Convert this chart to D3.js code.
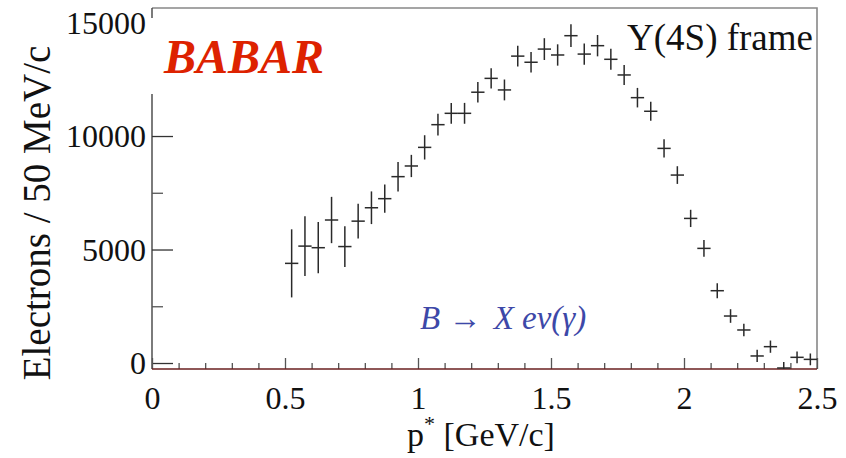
<!DOCTYPE html>
<html>
<head>
<meta charset="utf-8">
<script src="https://cdn.jsdelivr.net/npm/d3@7"></script>
<style>
  body { margin: 0; background: #fff; }
  svg { display: block; }
  text { font-family: "Liberation Serif", "Times New Roman", serif; }
</style>
</head>
<body>
<div id="content"></div>
<script>
// bin centres (50 MeV bins), electron yield and stat. error
var pStar = [0.525, 0.575, 0.625, 0.675, 0.725, 0.775, 0.825, 0.875, 0.925, 0.975,
	1.025, 1.075, 1.125, 1.175, 1.225, 1.275, 1.325, 1.375, 1.425, 1.475,
	1.525, 1.575, 1.625, 1.675, 1.725, 1.775, 1.825, 1.875, 1.925, 1.975,
	2.025, 2.075, 2.125, 2.175, 2.225, 2.275, 2.325, 2.375, 2.425, 2.475];

var counts = [4390, 5150, 5080, 6300, 5130, 6250, 6840, 7240, 8210, 8680,
	9500, 10500, 11000, 11000, 11930, 12540, 12030, 13520, 13250, 13830,
	13570, 14420, 13610, 13980, 13380, 12690, 11690, 11090, 9455, 8280,
	6370, 5050, 3185, 2070, 1455, 310, 720, -220, 250, 160];

var errors = [1500, 1320, 1130, 1020, 900, 770, 720, 620, 650, 490,
	535, 480, 460, 460, 450, 450, 460, 460, 450, 480,
	470, 500, 470, 470, 460, 440, 430, 420, 400, 390,
	380, 370, 330, 300, 280, 270, 270, 260, 260, 260];

var binHalf = 0.025;

var xMajor = [0, 0.5, 1, 1.5, 2, 2.5];
var xMinor = [0.1, 0.2, 0.3, 0.4, 0.6, 0.7, 0.8, 0.9, 1.1, 1.2, 1.3, 1.4,
	1.6, 1.7, 1.8, 1.9, 2.1, 2.2, 2.3, 2.4];
var yMajor = [0, 5000, 10000, 15000];
var yMinor = [2500, 7500, 12500];

var W = 846, H = 458;
var padL = 152, padR = 817, padT = 8, padB = 369;

var svg = d3.select("#content").append("svg")
	.attr("width", W).attr("height", H);

var x = d3.scaleLinear().domain([0, 2.5]).range([padL, padR]);
var y = d3.scaleLinear().domain([-264, 15640]).range([padB, padT]);

// frame: top and right in grey
svg.append("path")
	.attr("d", "M" + padL + "," + padT + "H" + padR + "V" + padB)
	.attr("fill", "none").attr("stroke", "#888").attr("stroke-width", 1.6);

// left axis
svg.append("line")
	.attr("x1", padL).attr("x2", padL).attr("y1", padT).attr("y2", padB)
	.attr("stroke", "#444").attr("stroke-width", 1.4);

var yAxis = d3.axisLeft(y).tickValues(yMajor).tickSize(-21).tickPadding(6)
	.tickFormat(d3.format("d"));
var gy = svg.append("g").attr("transform", "translate(" + padL + ",0)").call(yAxis);
gy.select(".domain").remove();
gy.selectAll("line").attr("stroke", "#333").attr("stroke-width", 1.3);
gy.selectAll("text").attr("font-size", 32).attr("fill", "#111")
	.attr("font-family", "Liberation Serif").attr("dy", "0.34em");

var gy2 = svg.append("g").attr("transform", "translate(" + padL + ",0)")
	.call(d3.axisLeft(y).tickValues(yMinor).tickSize(-11).tickFormat(""));
gy2.select(".domain").remove();
gy2.selectAll("line").attr("stroke", "#555").attr("stroke-width", 1.3);

// bottom axis
var xAxis = d3.axisBottom(x).tickValues(xMajor).tickSize(-11).tickPadding(17)
	.tickFormat(function (d) { return d; });
var gx = svg.append("g").attr("transform", "translate(0," + padB + ")").call(xAxis);
gx.select(".domain").remove();
gx.selectAll("line").attr("stroke", "#555").attr("stroke-width", 1.3);
gx.selectAll("text").attr("font-size", 32).attr("fill", "#111")
	.attr("font-family", "Liberation Serif");

var gx2 = svg.append("g").attr("transform", "translate(0," + padB + ")")
	.call(d3.axisBottom(x).tickValues(xMinor).tickSize(-6).tickFormat(""));
gx2.select(".domain").remove();
gx2.selectAll("line").attr("stroke", "#444").attr("stroke-width", 1.2);

svg.append("line")
	.attr("x1", padL).attr("x2", padR).attr("y1", padB).attr("y2", padB)
	.attr("stroke", "#6a1f1f").attr("stroke-width", 1.6);

// white patch where the logo was pasted over the axis
svg.append("rect").attr("x", padL - 3).attr("y", 18).attr("width", 180).attr("height", 76)
	.attr("fill", "#fff");

// data points with error bars
svg.append("clipPath").attr("id", "plotClip")
	.append("rect").attr("x", padL).attr("y", padT)
	.attr("width", padR - padL).attr("height", padB - padT);

var pts = svg.append("g").attr("clip-path", "url(#plotClip)")
	.selectAll("g").data(pStar).enter().append("g");

pts.append("line")
	.attr("x1", function (d) { return x(d - binHalf); })
	.attr("x2", function (d) { return x(d + binHalf); })
	.attr("y1", function (d, i) { return y(counts[i]); })
	.attr("y2", function (d, i) { return y(counts[i]); });

pts.append("line")
	.attr("x1", function (d) { return x(d); })
	.attr("x2", function (d) { return x(d); })
	.attr("y1", function (d, i) { return y(counts[i] - errors[i]); })
	.attr("y2", function (d, i) { return y(counts[i] + errors[i]); });

pts.selectAll("line").attr("stroke", "#2a2a2a").attr("stroke-width", 1.5);

// labels
svg.append("text").text("BABAR")
	.attr("x", 164).attr("y", 73)
	.attr("font-size", 48).attr("font-weight", "bold").attr("font-style", "italic")
	.attr("fill", "#dd2200");

svg.append("text").text("Y(4S) frame")
	.attr("x", 813).attr("y", 50).attr("text-anchor", "end")
	.attr("font-size", 37).attr("fill", "#111");

var decay = svg.append("text")
	.attr("x", 420).attr("y", 329)
	.attr("font-size", 33).attr("font-style", "italic").attr("fill", "#3d48a8");
decay.append("tspan").text("B \u2192 ");
decay.append("tspan").text("X e\u03BD(\u03B3)").attr("dx", 4);

svg.append("text")
	.attr("transform", "translate(50,213) rotate(-90)")
	.attr("text-anchor", "middle").attr("font-size", 39).attr("fill", "#111")
	.text("Electrons / 50 MeV/c");

var xt = svg.append("text")
	.attr("x", 481).attr("y", 446).attr("text-anchor", "middle")
	.attr("font-size", 34).attr("fill", "#111");
xt.append("tspan").text("p");
xt.append("tspan").text("*").attr("font-size", 22).attr("dy", -15);
xt.append("tspan").text(" [GeV/c]").attr("dy", 15);
</script>
</body>
</html>
